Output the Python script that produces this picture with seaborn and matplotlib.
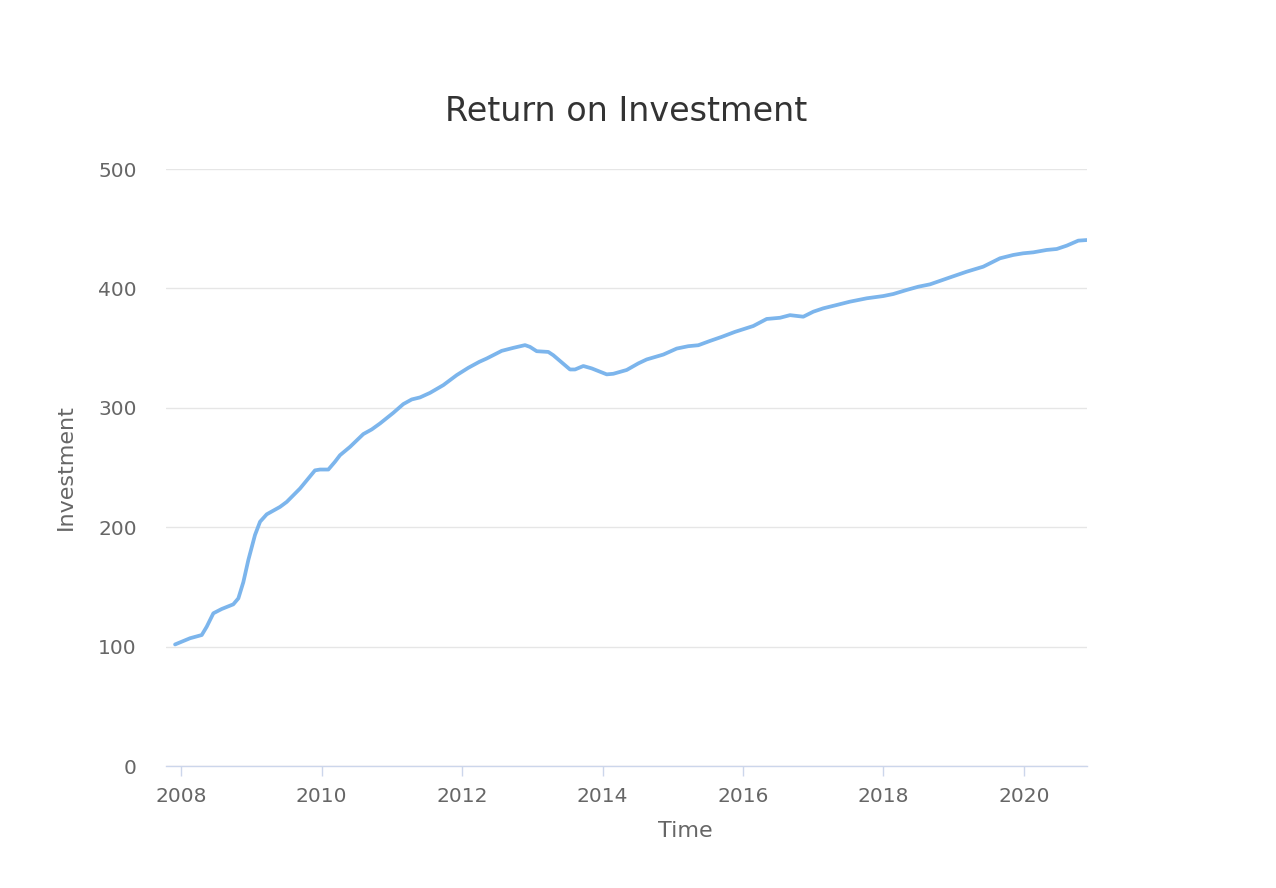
import matplotlib
matplotlib.use("Agg")
import matplotlib.pyplot as plt
import seaborn as sns
import pandas as pd

# Data (decimal year, investment value)
years = [
    2007.915, 2008.128, 2008.295, 2008.366, 2008.460, 2008.579, 2008.744, 2008.816,
    2008.887, 2008.958, 2009.053, 2009.125, 2009.220, 2009.409, 2009.505, 2009.694,
    2009.907, 2009.979, 2010.097, 2010.190, 2010.263, 2010.406, 2010.595, 2010.715,
    2010.833, 2011.022, 2011.164, 2011.284, 2011.402, 2011.544, 2011.734, 2011.925,
    2012.090, 2012.246, 2012.352, 2012.565, 2012.730, 2012.897, 2012.968, 2013.063,
    2013.228, 2013.300, 2013.537, 2013.609, 2013.727, 2013.846, 2014.060, 2014.154,
    2014.345, 2014.510, 2014.629, 2014.866, 2015.056, 2015.221, 2015.364, 2015.530,
    2015.697, 2015.886, 2016.146, 2016.337, 2016.527, 2016.669, 2016.858, 2017.001,
    2017.142, 2017.334, 2017.523, 2017.761, 2017.997, 2018.139, 2018.330, 2018.495,
    2018.662, 2018.936, 2019.184, 2019.420, 2019.658, 2019.847, 2019.989, 2020.132,
    2020.323, 2020.466, 2020.608, 2020.773, 2020.893,
]
investment = [
    101.8, 107.0, 109.7, 116.7, 127.9, 131.5, 135.4, 140.4,
    154.0, 172.5, 193.5, 204.6, 210.8, 217.0, 221.2, 232.4,
    247.6, 248.3, 248.3, 254.7, 260.3, 267.3, 278.0, 281.9,
    286.9, 295.8, 303.1, 307.0, 308.7, 312.5, 319.0, 327.4,
    333.5, 338.5, 341.3, 347.7, 350.2, 352.5, 351.0, 347.4,
    346.8, 344.0, 332.1, 332.1, 335.0, 333.0, 328.0, 328.5,
    331.7, 337.2, 340.5, 344.6, 349.6, 351.6, 352.4, 356.0,
    359.4, 363.6, 368.5, 374.4, 375.4, 377.6, 376.3, 380.5,
    383.3, 386.1, 388.9, 391.7, 393.6, 395.3, 398.7, 401.4,
    403.4, 409.0, 414.0, 418.2, 425.2, 428.0, 429.4, 430.2,
    432.2, 433.0, 435.8, 440.0, 440.5,
]
x_ticks = [2008, 2010, 2012, 2014, 2016, 2018, 2020]
y_ticks = [0, 100, 200, 300, 400, 500]
title = "Return on Investment"
x_label = "Time"
y_label = "Investment"

df = pd.DataFrame({"Time": years, "Investment": investment})

sns.set_style("white")
plt.rcParams["font.family"] = ["DejaVu Sans"]

fig = plt.figure(figsize=(12.76, 8.88), dpi=100)
W, H = 1276, 888
left, right, top, bottom = 166, 1087, 169, 766
ax = fig.add_axes([left / W, 1 - bottom / H, (right - left) / W, (bottom - top) / H])

sns.lineplot(data=df, x="Time", y="Investment", ax=ax, color="#7cb5ec",
             linewidth=2.7, solid_capstyle="round", solid_joinstyle="round")

ax.set_xlim(2007.786, 2020.897)
ax.set_ylim(0, 500)
ax.set_xticks(x_ticks)
ax.set_xticklabels([str(t) for t in x_ticks])
ax.set_yticks(y_ticks)
ax.set_yticklabels([str(t) for t in y_ticks])

ax.grid(axis="y", color="#e6e6e6", linewidth=1.0)
ax.grid(axis="x", visible=False)
ax.set_axisbelow(True)

for s in ["top", "right", "left"]:
    ax.spines[s].set_visible(False)
ax.spines["bottom"].set_color("#ccd6eb")
ax.spines["bottom"].set_linewidth(1.0)
ax.spines["bottom"].set_zorder(0.5)

ax.tick_params(axis="x", bottom=True, direction="out", length=7.2, width=1.0,
               color="#ccd6eb", labelsize=14.5, labelcolor="#666666", pad=8)
ax.tick_params(axis="y", left=False, length=0, labelsize=14.5,
               labelcolor="#666666", pad=21)

ax.set_xlabel(x_label, fontsize=16, color="#666666")
ax.set_ylabel(y_label, fontsize=16, color="#666666")
ax.xaxis.set_label_coords((685 - left) / (right - left), (bottom - 831) / (bottom - top))
ax.xaxis.label.set_verticalalignment("center")
ax.yaxis.set_label_coords((66 - left) / (right - left), 0.5)
ax.yaxis.label.set_verticalalignment("center")

ax.set_title(title, fontsize=24, color="#333333",
             y=(bottom - 120) / (bottom - top), va="center")

fig.savefig("out.png", dpi=100, facecolor="white")
